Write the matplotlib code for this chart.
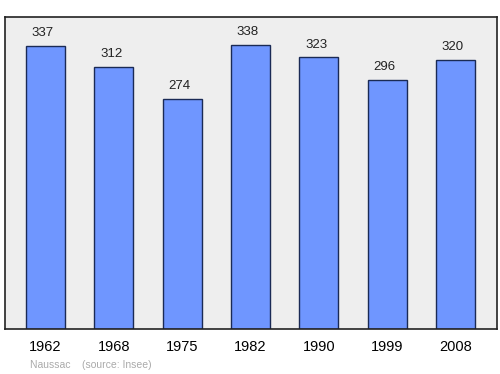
import matplotlib.pyplot as plt

years = ['1962', '1968', '1975', '1982', '1990', '1999', '2008']
population = [337, 312, 274, 338, 323, 296, 320]

plt.rcParams['font.family'] = ['Liberation Sans', 'DejaVu Sans']

fig = plt.figure(figsize=(5, 3.74), dpi=100)
ax = fig.add_axes([0.01, 0.1203, 0.984, 0.834])
ax.set_facecolor('#eeeeee')

x = list(range(len(years)))
ax.bar(x, population, width=0.57, color='#6f96ff', edgecolor='#1a2a55', linewidth=1)

# value labels above each bar
for xi, v in zip(x, population):
    ax.text(xi - 0.04, v + 8, str(v), ha='center', va='bottom', fontsize=9.5, color='#222222')

ax.set_xlim(-0.593, 6.608)
ax.set_ylim(0, 371)
ax.set_xticks(x)
ax.set_xticklabels(years, fontsize=10.5)
ax.tick_params(axis='x', length=0, pad=8)
ax.set_yticks([])
for s in ax.spines.values():
    s.set_linewidth(1.2)
    s.set_color('#222222')

fig.text(0.06, 0.015, 'Naussac    (source: Insee)', fontsize=7.5, color='#aaaaaa')

fig.savefig('out.png', dpi=100)
